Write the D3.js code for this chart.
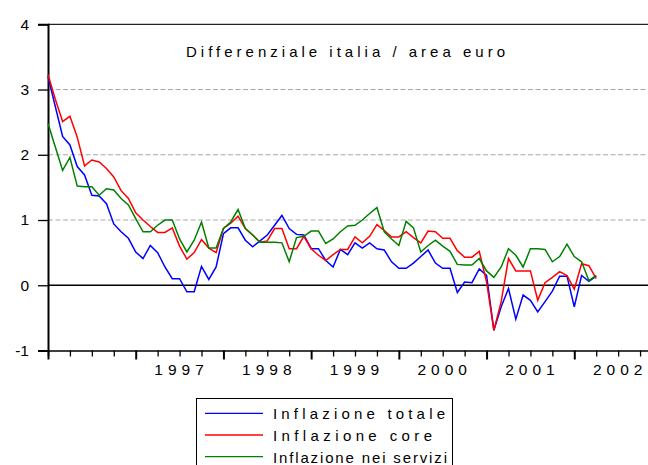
<!DOCTYPE html>
<html>
<head>
<meta charset="utf-8">
<script src="https://cdn.jsdelivr.net/npm/d3@7"></script>
<style>
  html, body { margin: 0; padding: 0; background: #fff; }
  svg { display: block; font-family: "Liberation Sans", Arial, sans-serif; }
</style>
</head>
<body>
<svg id="chart" width="648" height="465"></svg>
<script>
// ---- Data (monthly, starting January 1996) ----
const startYear = 1996;
const yearLabels = ["1997", "1998", "1999", "2000", "2001", "2002"];
const yTicks = [-1, 0, 1, 2, 3, 4];
const gridValues = [1, 2, 3];
const title = "Differenziale italia / area euro";
const seriesNames = ["Inflazione totale", "Inflazione core", "Inflazione nei servizi"];
const seriesColors = ["#0000ff", "#ff0000", "#008000"];

const totale = [
  3.20, 2.74, 2.28, 2.15, 1.82, 1.69, 1.38, 1.37, 1.25, 0.94, 0.82, 0.72,
  0.51, 0.41, 0.61, 0.50, 0.28, 0.10, 0.10, -0.10, -0.10, 0.29, 0.09, 0.28,
  0.79, 0.88, 0.88, 0.69, 0.59, 0.68, 0.77, 0.92, 1.07, 0.87, 0.78, 0.77,
  0.56, 0.56, 0.38, 0.28, 0.55, 0.47, 0.65, 0.57, 0.65, 0.56, 0.54, 0.36,
  0.26, 0.26, 0.34, 0.44, 0.54, 0.34, 0.26, 0.26, -0.11, 0.05, 0.04, 0.25,
  0.15, -0.69, -0.33, -0.05, -0.52, -0.15, -0.23, -0.41, -0.25, -0.09, 0.14, 0.14,
  -0.33, 0.15, 0.06, 0.14
];
const core = [
  3.23, 2.85, 2.51, 2.59, 2.27, 1.83, 1.92, 1.89, 1.79, 1.66, 1.45, 1.33,
  1.11, 1.00, 0.90, 0.81, 0.81, 0.88, 0.60, 0.40, 0.50, 0.70, 0.57, 0.50,
  0.87, 0.95, 1.06, 0.87, 0.77, 0.66, 0.68, 0.87, 0.87, 0.56, 0.56, 0.75,
  0.56, 0.46, 0.38, 0.47, 0.55, 0.55, 0.74, 0.65, 0.75, 0.93, 0.84, 0.74,
  0.74, 0.82, 0.73, 0.65, 0.83, 0.82, 0.72, 0.72, 0.53, 0.43, 0.43, 0.52,
  0.05, -0.69, -0.25, 0.41, 0.22, 0.22, 0.22, -0.23, 0.04, 0.12, 0.21, 0.15,
  -0.06, 0.33, 0.30, 0.10
];
const servizi = [
  2.48, 2.12, 1.76, 1.96, 1.52, 1.51, 1.51, 1.38, 1.48, 1.46, 1.33, 1.23,
  1.02, 0.82, 0.82, 0.92, 1.00, 1.00, 0.71, 0.51, 0.69, 0.97, 0.57, 0.57,
  0.87, 0.97, 1.16, 0.87, 0.77, 0.66, 0.66, 0.66, 0.65, 0.36, 0.73, 0.75,
  0.83, 0.83, 0.64, 0.71, 0.82, 0.91, 0.92, 1.00, 1.10, 1.19, 0.82, 0.71,
  0.61, 0.98, 0.88, 0.51, 0.61, 0.69, 0.60, 0.52, 0.32, 0.31, 0.31, 0.41,
  0.22, 0.12, 0.28, 0.56, 0.46, 0.28, 0.56, 0.56, 0.55, 0.36, 0.44, 0.63,
  0.44, 0.36, 0.07, 0.15
];

// ---- Layout ----
const svg = d3.select("#chart");
const plotLeft = 48, plotRight = 662, plotTop = 24.3, plotBottom = 350.5;
const monthsShown = 84;

const x = d3.scaleLinear().domain([0, monthsShown]).range([plotLeft, plotRight]);
const y = d3.scaleLinear().domain([-1, 4]).range([plotBottom, plotTop]);

// grid lines
svg.append("g").selectAll("line").data(gridValues).join("line")
  .attr("x1", plotLeft).attr("x2", 648)
  .attr("y1", d => y(d)).attr("y2", d => y(d))
  .attr("stroke", "#a8a8a8").attr("stroke-width", 1)
  .attr("stroke-dasharray", "5,2.5");

// zero line
svg.append("line")
  .attr("x1", plotLeft).attr("x2", 648).attr("y1", y(0)).attr("y2", y(0))
  .attr("stroke", "#000").attr("stroke-width", 1.3);

// top frame
svg.append("line")
  .attr("x1", plotLeft).attr("x2", 648).attr("y1", y(4)).attr("y2", y(4))
  .attr("stroke", "#222").attr("stroke-width", 1.3);

// Y axis
const yAxis = svg.append("g").attr("transform", `translate(${plotLeft},0)`)
  .call(d3.axisLeft(y).tickValues(yTicks).tickSize(10).tickPadding(9)
    .tickFormat(d => String(d)));
yAxis.select(".domain").attr("stroke", "#000").attr("stroke-width", 2);
yAxis.selectAll(".tick line").attr("stroke", "#000").attr("stroke-width", 1.3);
yAxis.selectAll(".tick text").attr("font-size", 15.5).attr("fill", "#000")
  .attr("font-family", "Liberation Sans, Arial, sans-serif");

// X axis
const xAxis = svg.append("g").attr("transform", `translate(0,${plotBottom})`)
  .call(d3.axisBottom(x).tickValues(d3.range(0, monthsShown + 1, 3)).tickSize(6).tickFormat(""));
xAxis.select(".domain").attr("stroke", "#000").attr("stroke-width", 1.5);
xAxis.selectAll(".tick line")
  .attr("stroke", "#000")
  .attr("y2", d => d % 12 === 0 ? 9 : 6)
  .attr("stroke-width", d => d % 12 === 0 ? 2 : 1.3);

svg.append("g").selectAll("text").data(yearLabels).join("text")
  .attr("x", d => x((+d - startYear) * 12 + 6) + 2)
  .attr("y", 375)
  .attr("text-anchor", "middle")
  .attr("font-size", 15.5)
  .attr("letter-spacing", 5)
  .attr("fill", "#000")
  .text(d => d);

// Title
svg.append("text")
  .attr("x", 186).attr("y", 56.5)
  .attr("font-size", 15)
  .attr("textLength", 319).attr("lengthAdjust", "spacing")
  .attr("fill", "#000")
  .text(title);

// Lines
const allSeries = [totale, core, servizi];
const line = d3.line().x((d, i) => x(i)).y(d => y(d));
svg.append("g").selectAll("path").data(allSeries).join("path")
  .attr("d", d => line(d))
  .attr("fill", "none")
  .attr("stroke", (d, i) => seriesColors[i])
  .attr("stroke-width", 1.5)
  .attr("stroke-linejoin", "miter");

// Legend
const lg = svg.append("g");
lg.append("rect")
  .attr("x", 196.5).attr("y", 398.5).attr("width", 256).attr("height", 80)
  .attr("fill", "#fff").attr("stroke", "#000").attr("stroke-width", 1);
const legendTextLen = [172, 159, 174];
seriesNames.forEach((name, i) => {
  const ly = 413.3 + i * 21.7;
  lg.append("line").attr("x1", 205).attr("x2", 263).attr("y1", ly).attr("y2", ly)
    .attr("stroke", seriesColors[i]).attr("stroke-width", 1.3);
  lg.append("text").attr("x", 273).attr("y", ly + 6)
    .attr("font-size", 15)
    .attr("textLength", legendTextLen[i]).attr("lengthAdjust", "spacing")
    .attr("fill", "#000")
    .text(name);
});
</script>
</body>
</html>
